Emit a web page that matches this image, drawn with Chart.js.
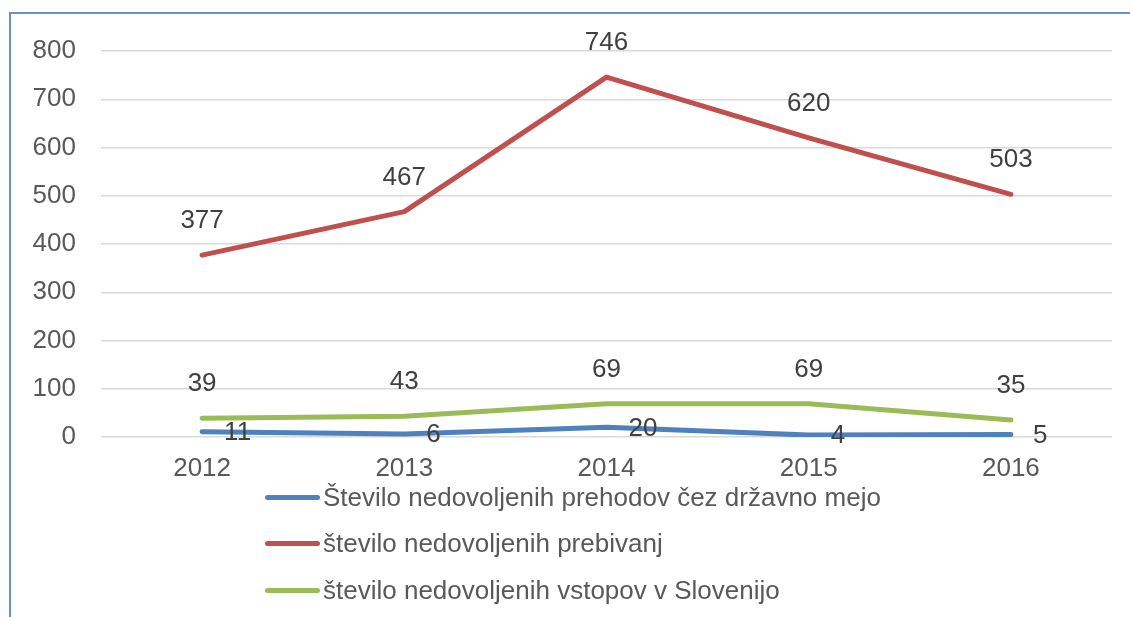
<!DOCTYPE html>
<html>
<head>
<meta charset="utf-8">
<script src="https://cdn.jsdelivr.net/npm/chart.js@4/dist/chart.umd.min.js"></script>
<style>
  html, body { margin: 0; padding: 0; background: #fff; }
  body { width: 1130px; height: 617px; position: relative; overflow: hidden; font-family: 'Liberation Sans', Arial, sans-serif; }
  .frame { position: absolute; left: 9px; top: 12px; width: 1200px; height: 700px; border-top: 2px solid #6b8fcb; border-left: 2px solid #6b8fcb; }
  #chart { position: absolute; left: 0; top: 0; }
  .legend { position: absolute; left: 265px; top: 474px; }
  .legend__item { display: flex; align-items: center; height: 46.5px; color: #595959; font-size: 26px; }
  .legend__line { width: 55px; height: 5px; border-radius: 3px; margin-right: 3px; }
</style>
</head>
<body>
<div class="frame"></div>
<canvas id="chart" width="1130" height="617"></canvas>
<div class="legend" id="legend"></div>
<script>
// Data
const years = ['2012', '2013', '2014', '2015', '2016'];
const prehodi = [11, 6, 20, 4, 5];
const prebivanja = [377, 467, 746, 620, 503];
const vstopi = [39, 43, 69, 69, 35];
const yTicks = [0, 100, 200, 300, 400, 500, 600, 700, 800];

const seriesLabels = [
  'Število nedovoljenih prehodov čez državno mejo',
  'število nedovoljenih prebivanj',
  'število nedovoljenih vstopov v Slovenijo'
];
const seriesColors = ['#4f81bd', '#c0504d', '#9bbb59'];

const textColor = '#595959';
const labelColor = '#404040';
const fontFamily = "'Liberation Sans', Arial, sans-serif";

// data labels: red & green above, blue to the right
const labelOffsets = [
  { dx: 22, dy: 1, align: 'left' },
  { dx: 0, dy: -34, align: 'center' },
  { dx: 0, dy: -34, align: 'center' }
];

const dataLabelPlugin = {
  id: 'dataLabels',
  afterDatasetsDraw(chart) {
    const ctx = chart.ctx;
    ctx.save();
    ctx.font = `26px ${fontFamily}`;
    ctx.fillStyle = labelColor;
    ctx.textBaseline = 'middle';
    chart.data.datasets.forEach((ds, i) => {
      const meta = chart.getDatasetMeta(i);
      const off = labelOffsets[i];
      ctx.textAlign = off.align;
      meta.data.forEach((pt, j) => {
        ctx.fillText(String(ds.data[j]), pt.x + off.dx, pt.y + off.dy);
      });
    });
    ctx.restore();
  }
};

const allSeries = [prehodi, prebivanja, vstopi];

const datasets = allSeries.map((values, i) => ({
  label: seriesLabels[i],
  data: values,
  borderColor: seriesColors[i],
  backgroundColor: seriesColors[i],
  borderWidth: 5,
  borderCapStyle: 'round',
  borderJoinStyle: 'round',
  pointRadius: 0,
  tension: 0,
  fill: false
}));

new Chart(document.getElementById('chart'), {
  type: 'line',
  data: { labels: years, datasets: datasets },
  options: {
    responsive: false,
    animation: false,
    layout: { padding: { top: 51, right: 18, left: 0, bottom: 0 } },
    plugins: {
      legend: { display: false },
      tooltip: { enabled: false }
    },
    scales: {
      x: {
        offset: true,
        grid: { display: false, drawTicks: false },
        border: { display: false },
        ticks: { color: textColor, font: { family: fontFamily, size: 26 }, padding: 16 },
        afterFit: scale => { scale.height = 180; }
      },
      y: {
        min: 0,
        max: 800,
        afterBuildTicks: scale => { scale.ticks = yTicks.map(v => ({ value: v })); },
        grid: { color: '#d9d9d9', lineWidth: 1.5, drawTicks: false },
        border: { display: false },
        ticks: { color: textColor, font: { family: fontFamily, size: 26 }, padding: 25 },
        afterFit: scale => { scale.width = 101; }
      }
    }
  },
  plugins: [dataLabelPlugin]
});

// HTML legend, one row per series
document.getElementById('legend').innerHTML = seriesLabels.map((label, i) => `
  <div class="legend__item">
    <div class="legend__line" style="background: ${seriesColors[i]}"></div>
    <span>${label}</span>
  </div>
`).join('');
</script>
</body>
</html>
